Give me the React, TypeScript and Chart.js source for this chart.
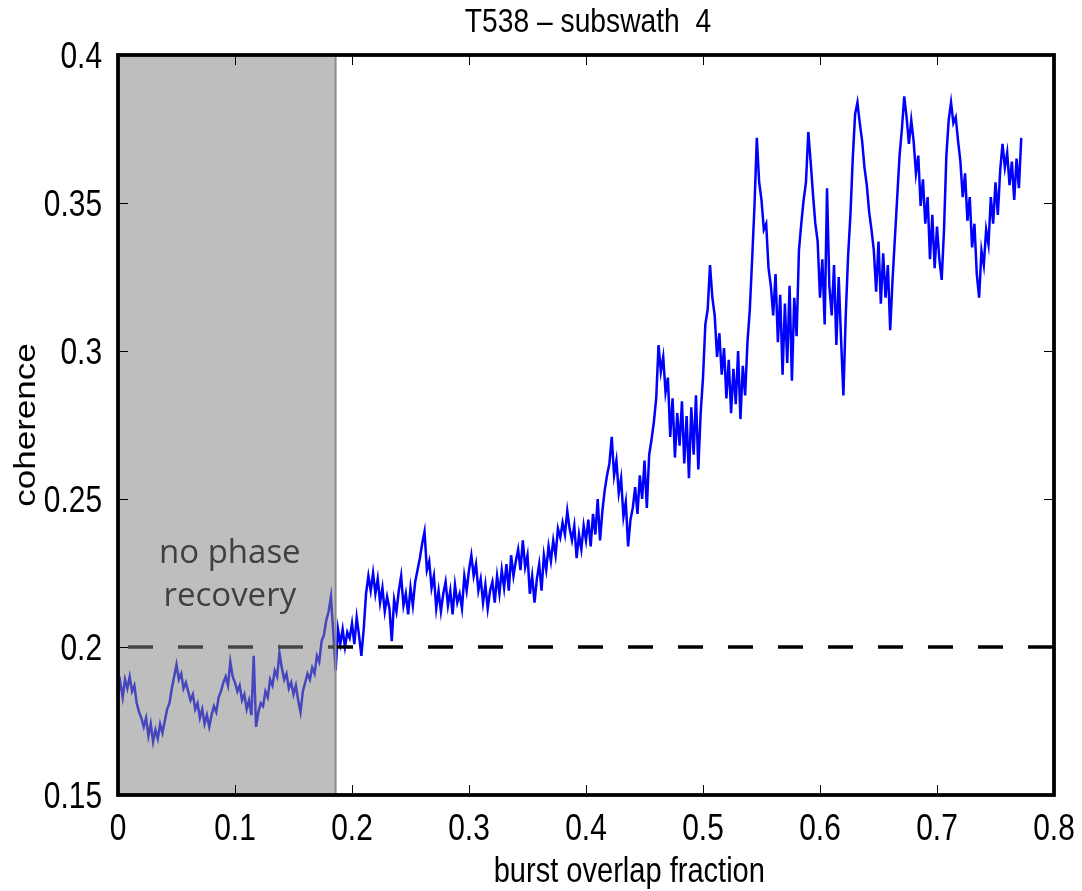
import React, { useEffect, useRef } from "react";
import { Chart, registerables } from "chart.js";

Chart.register(...registerables);

// ---- data ----
const titleText = "T538 \u2013 subswath  4";
const xAxisLabel = "burst overlap fraction";
const yAxisLabel = "coherence";
const shadeLabelLines = ["no phase", "recovery"];

const xStart = 0;
const xStep = 0.002; // spacing of the coherence samples along burst overlap fraction
const coherence = [
  0.184, 0.188, 0.183, 0.189, 0.186, 0.190, 0.185, 0.187, 0.181, 0.178,
  0.176, 0.173, 0.176, 0.170, 0.174, 0.168, 0.172, 0.169, 0.174, 0.171,
  0.175, 0.179, 0.181, 0.186, 0.190, 0.194, 0.189, 0.191, 0.186, 0.188,
  0.185, 0.182, 0.184, 0.179, 0.181, 0.176, 0.179, 0.174, 0.177, 0.173,
  0.177, 0.180, 0.178, 0.183, 0.185, 0.188, 0.190, 0.187, 0.195, 0.190,
  0.188, 0.185, 0.187, 0.182, 0.184, 0.179, 0.182, 0.177, 0.197, 0.173,
  0.178, 0.181, 0.180, 0.185, 0.183, 0.189, 0.187, 0.192, 0.190, 0.198,
  0.193, 0.189, 0.191, 0.186, 0.188, 0.184, 0.187, 0.182, 0.178, 0.185,
  0.188, 0.191, 0.189, 0.193, 0.191, 0.197, 0.195, 0.202, 0.204, 0.209,
  0.212, 0.217, 0.205, 0.192, 0.206, 0.201, 0.206, 0.200, 0.205, 0.203,
  0.208, 0.201, 0.210, 0.204, 0.197, 0.206, 0.218, 0.224, 0.219, 0.225,
  0.218, 0.223, 0.215, 0.220, 0.212, 0.217, 0.213, 0.202, 0.216, 0.212,
  0.219, 0.224, 0.214, 0.218, 0.211, 0.220, 0.214, 0.222, 0.226, 0.230,
  0.235, 0.239, 0.226, 0.229, 0.220, 0.224, 0.213, 0.219, 0.212, 0.218,
  0.222, 0.214, 0.219, 0.211, 0.221, 0.215, 0.218, 0.213, 0.224, 0.219,
  0.226, 0.231, 0.224, 0.228, 0.219, 0.223, 0.215, 0.221, 0.213, 0.219,
  0.222, 0.215, 0.224, 0.218, 0.226, 0.220, 0.228, 0.219, 0.231, 0.224,
  0.229, 0.233, 0.226, 0.236, 0.227, 0.231, 0.218, 0.224, 0.215, 0.223,
  0.228, 0.219, 0.231, 0.226, 0.234, 0.229, 0.236, 0.231, 0.240, 0.237,
  0.242, 0.238, 0.246, 0.240, 0.236, 0.241, 0.230, 0.238, 0.233, 0.241,
  0.236, 0.243, 0.234, 0.245, 0.238, 0.250, 0.236, 0.246, 0.253, 0.258,
  0.262, 0.271, 0.258, 0.263, 0.252, 0.257, 0.244, 0.249, 0.234, 0.243,
  0.247, 0.254, 0.245, 0.258, 0.250, 0.263, 0.247, 0.265, 0.270, 0.276,
  0.284, 0.302, 0.293, 0.298, 0.286, 0.291, 0.271, 0.284, 0.264, 0.279,
  0.268, 0.283, 0.262, 0.278, 0.257, 0.281, 0.265, 0.285, 0.260, 0.279,
  0.291, 0.309, 0.314, 0.329, 0.318, 0.312, 0.298, 0.306, 0.292, 0.301,
  0.284, 0.297, 0.279, 0.294, 0.282, 0.300, 0.277, 0.295, 0.285, 0.303,
  0.314, 0.331, 0.349, 0.372, 0.357, 0.351, 0.341, 0.343, 0.328, 0.322,
  0.312, 0.326, 0.303, 0.319, 0.292, 0.316, 0.296, 0.322, 0.290, 0.318,
  0.305, 0.334, 0.343, 0.351, 0.357, 0.374, 0.364, 0.353, 0.343, 0.337,
  0.318, 0.331, 0.309, 0.355, 0.322, 0.312, 0.329, 0.302, 0.325, 0.304,
  0.285, 0.312, 0.332, 0.346, 0.365, 0.380, 0.384, 0.377, 0.371, 0.362,
  0.356, 0.347, 0.341, 0.334, 0.320, 0.337, 0.316, 0.333, 0.318, 0.329,
  0.307, 0.324, 0.338, 0.352, 0.366, 0.375, 0.386, 0.379, 0.370, 0.378,
  0.371, 0.360, 0.366, 0.349, 0.358, 0.343, 0.352, 0.331, 0.346, 0.328,
  0.342, 0.331, 0.324, 0.341, 0.366, 0.378, 0.384, 0.377, 0.379, 0.371,
  0.364, 0.352, 0.360, 0.344, 0.352, 0.335, 0.343, 0.326, 0.318, 0.334,
  0.329, 0.341, 0.336, 0.352, 0.343, 0.357, 0.346, 0.361, 0.370, 0.362,
  0.367, 0.356, 0.364, 0.351, 0.365, 0.355, 0.372,
];
const thresholdX = [0, 0.8];
const thresholdY = [0.2, 0.2];
const noRecoveryEnd = 0.186;
const xTicks = [0, 0.1, 0.2, 0.3, 0.4, 0.5, 0.6, 0.7, 0.8];
const yTicks = [0.15, 0.2, 0.25, 0.3, 0.35, 0.4];

// ---- styles ----
const FONT = "'Liberation Sans', Arial, Helvetica, sans-serif";
const SQUEEZE = 0.83; // horizontal condensing of the Helvetica-like text
const fmt = (v: number) => String(Number(Number(v).toFixed(2)));

function squeezedText(
  ctx: CanvasRenderingContext2D,
  text: string,
  x: number,
  y: number,
  align: CanvasTextAlign
) {
  ctx.save();
  ctx.translate(x, y);
  ctx.scale(SQUEEZE, 1);
  ctx.textAlign = align;
  ctx.fillText(text, 0, 0);
  ctx.restore();
}

const decorPlugin = {
  id: "decor",
  afterDatasetsDraw(chart: any) {
    const { ctx, chartArea: a, scales } = chart;
    const x = scales.x;
    ctx.save();
    const xe = x.getPixelForValue(noRecoveryEnd);
    ctx.fillStyle = "rgba(132,132,132,0.53)";
    ctx.fillRect(a.left, a.top, xe - a.left, a.bottom - a.top);
    ctx.strokeStyle = "#8c8c8c";
    ctx.lineWidth = 2;
    ctx.beginPath();
    ctx.moveTo(xe, a.top);
    ctx.lineTo(xe, a.bottom);
    ctx.stroke();

    ctx.fillStyle = "#404040";
    ctx.font = "33px 'Open Sans', sans-serif";
    ctx.textAlign = "center";
    ctx.textBaseline = "alphabetic";
    const cx = (a.left + xe) / 2 + 3;
    ctx.fillText(shadeLabelLines[0], cx, a.top + 508);
    ctx.fillText(shadeLabelLines[1], cx, a.top + 551);
    ctx.restore();
  },
  afterDraw(chart: any) {
    const { ctx, chartArea: a, scales } = chart;
    const x = scales.x;
    const y = scales.y;
    ctx.save();
    ctx.strokeStyle = "#000";
    ctx.lineWidth = 1;
    const tl = 10;
    ctx.beginPath();
    xTicks.forEach((t) => {
      const px = Math.round(x.getPixelForValue(t)) + 0.5;
      ctx.moveTo(px, a.bottom);
      ctx.lineTo(px, a.bottom - tl);
      ctx.moveTo(px, a.top);
      ctx.lineTo(px, a.top + tl);
    });
    yTicks.forEach((t) => {
      const py = Math.round(y.getPixelForValue(t)) + 0.5;
      ctx.moveTo(a.left, py);
      ctx.lineTo(a.left + tl, py);
      ctx.moveTo(a.right, py);
      ctx.lineTo(a.right - tl, py);
    });
    ctx.stroke();

    ctx.lineWidth = 3.8;
    ctx.strokeRect(a.left, a.top, a.right - a.left, a.bottom - a.top);

    // tick labels
    ctx.fillStyle = "#000";
    ctx.textBaseline = "alphabetic";
    ctx.font = `36px ${FONT}`;
    xTicks.forEach((t) => {
      squeezedText(ctx, fmt(t), x.getPixelForValue(t), a.bottom + 45, "center");
    });
    yTicks.forEach((t) => {
      squeezedText(ctx, fmt(t), a.left - 16, y.getPixelForValue(t) + 13, "right");
    });

    // title and axis titles
    ctx.font = `34px ${FONT}`;
    squeezedText(ctx, titleText, (a.left + a.right) / 2 + 2, 32, "center");
    ctx.font = `35px ${FONT}`;
    squeezedText(ctx, xAxisLabel, x.getPixelForValue(0.437), 882, "center");

    ctx.save();
    ctx.translate(27, (a.top + a.bottom) / 2);
    ctx.rotate(-Math.PI / 2);
    ctx.scale(1, SQUEEZE);
    ctx.textAlign = "center";
    ctx.textBaseline = "middle";
    ctx.fillText(yAxisLabel, 0, 0);
    ctx.restore();
    ctx.restore();
  },
};

export default function App() {
  const ref = useRef<HTMLCanvasElement | null>(null);
  useEffect(() => {
    document.body.style.margin = "0";
    const canvas = ref.current;
    if (!canvas) return;
    const points = coherence.map((v, i) => ({ x: xStart + i * xStep, y: v }));
    const threshold = thresholdX.map((v, i) => ({ x: v, y: thresholdY[i] }));
    const chart = new Chart(canvas, {
      type: "line",
      data: {
        datasets: [
          {
            label: "threshold",
            data: threshold,
            borderColor: "#000",
            borderWidth: 3.5,
            borderDash: [25, 25],
            borderDashOffset: 40,
            pointRadius: 0,
            fill: false,
          },
          {
            label: "coherence",
            data: points,
            borderColor: "#0000ff",
            borderWidth: 2.5,
            pointRadius: 0,
            tension: 0,
            fill: false,
          },
        ],
      },
      options: {
        animation: false,
        responsive: true,
        maintainAspectRatio: false,
        layout: { padding: { top: 55, right: 28, left: 0, bottom: 0 } },
        plugins: {
          legend: { display: false },
          title: { display: false },
          tooltip: { enabled: false },
        },
        scales: {
          x: {
            type: "linear",
            min: 0,
            max: 0.8,
            afterFit: (s: any) => {
              s.height = 96;
            },
            grid: { display: false, drawTicks: false },
            border: { display: false },
            ticks: { display: false },
          },
          y: {
            type: "linear",
            min: 0.15,
            max: 0.4,
            afterFit: (s: any) => {
              s.width = 118;
            },
            grid: { display: false, drawTicks: false },
            border: { display: false },
            ticks: { display: false },
          },
        },
      },
      plugins: [decorPlugin],
    });
    return () => chart.destroy();
  }, []);
  return (
    <div style={{ width: "1082px", height: "891px", position: "relative" }}>
      <canvas ref={ref} />
    </div>
  );
}
